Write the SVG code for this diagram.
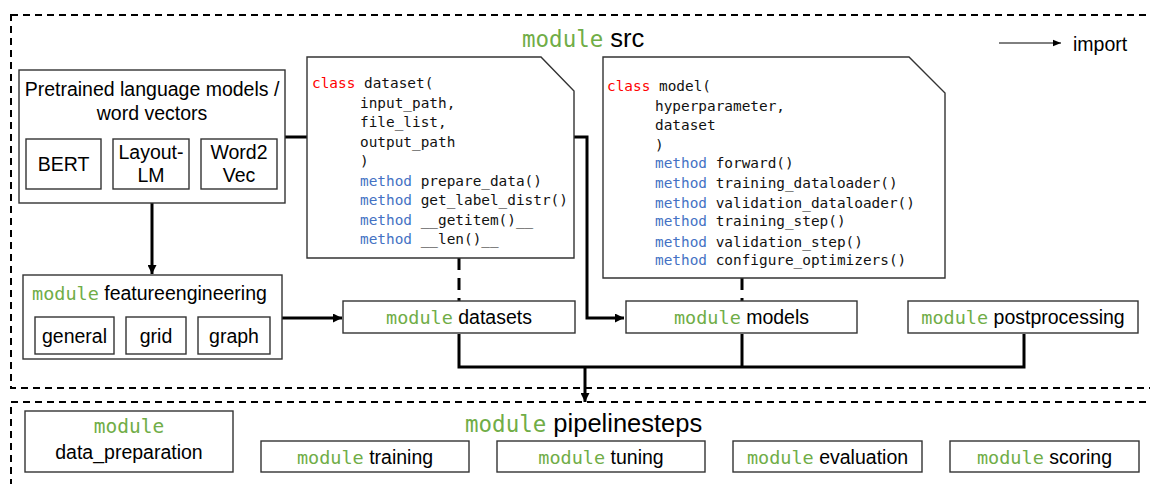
<svg xmlns="http://www.w3.org/2000/svg" width="1150" height="484" viewBox="0 0 1150 484">
  <defs>
    <marker id="arrow" viewBox="0 0 10 10" refX="10" refY="5" markerWidth="3" markerHeight="3" orient="auto" markerUnits="strokeWidth">
      <path d="M0,0 L10,5 L0,10 z" fill="#000"/>
    </marker>
    <marker id="arrow-thin" viewBox="0 0 10 10" refX="10" refY="5" markerWidth="8" markerHeight="8" orient="auto" markerUnits="strokeWidth">
      <path d="M0,1 L10,5 L0,9 z" fill="#000"/>
    </marker>
    <style>
      .box { fill: #fff; stroke: #333; stroke-width: 1.4; }
      .frame { fill: none; stroke: #000; stroke-width: 2; stroke-dasharray: 7 5; }
      .wire { fill: none; stroke: #000; stroke-width: 3; }
      .dash { fill: none; stroke: #000; stroke-width: 3; stroke-dasharray: 12 8; }
      .txt { font-family: "Liberation Sans", Arial, sans-serif; font-size: 19.5px; fill: #000; }
      .big { font-family: "Liberation Sans", Arial, sans-serif; font-size: 25.5px; fill: #000; }
      .mono { font-family: "DejaVu Sans Mono", "Liberation Mono", monospace; }
      .kw { fill: #70AD47; }
      .code { font-family: "DejaVu Sans Mono", "Liberation Mono", monospace; font-size: 14.4px; fill: #111; }
      .cls { fill: #FF0000; }
      .meth { fill: #4472C4; }
    </style>
  </defs>

  <!-- package frames -->
  <rect class="frame" x="11" y="15" width="1160" height="373"/>
  <rect class="frame" x="11" y="402" width="1160" height="100"/>

  <!-- frame titles -->
  <text class="big" x="522" y="47"><tspan class="mono kw" font-size="22.5px">module</tspan> src</text>
  <text class="big" x="465" y="432"><tspan class="mono kw" font-size="22.5px">module</tspan> pipelinesteps</text>

  <!-- legend -->
  <g id="legend">
    <line x1="999" y1="43" x2="1061" y2="43" stroke="#000" stroke-width="1" marker-end="url(#arrow-thin)"/>
    <text class="txt" x="1073" y="51" font-size="23.5px">import</text>
  </g>

  <!-- connectors -->
  <g id="connectors">
    <!-- pretrained models -> models (passes behind dataset class) -->
    <polyline class="wire" points="285,137 587,137 587,318 624,318" marker-end="url(#arrow)"/>
    <!-- pretrained models -> featureengineering -->
    <line class="wire" x1="152" y1="203" x2="152" y2="274" marker-end="url(#arrow)"/>
    <!-- featureengineering -> datasets -->
    <line class="wire" x1="282" y1="318" x2="342" y2="318" marker-end="url(#arrow)"/>
    <!-- class definitions -> modules -->
    <line class="dash" x1="459" y1="258" x2="459" y2="301"/>
    <line class="dash" x1="742" y1="278" x2="742" y2="301"/>
    <!-- src modules -> pipelinesteps -->
    <polyline class="wire" points="459,334 459,367 1024,367 1024,334"/>
    <line class="wire" x1="742" y1="334" x2="742" y2="367"/>
    <line class="wire" x1="585" y1="367" x2="585" y2="402" marker-end="url(#arrow)"/>
  </g>

  <!-- pretrained language models -->
  <g id="pretrained">
    <rect class="box" x="19" y="70" width="266" height="133"/>
    <text class="txt" x="152" y="96" text-anchor="middle">Pretrained language models /</text>
    <text class="txt" x="152" y="120" text-anchor="middle">word vectors</text>
    <rect class="box" x="26" y="139" width="75" height="50"/>
    <text class="txt" x="63.5" y="171" text-anchor="middle">BERT</text>
    <rect class="box" x="113" y="139" width="76" height="50"/>
    <text class="txt" x="151" y="159" text-anchor="middle">Layout-</text>
    <text class="txt" x="151" y="182" text-anchor="middle">LM</text>
    <rect class="box" x="201" y="139" width="76" height="50"/>
    <text class="txt" x="239" y="159" text-anchor="middle">Word2</text>
    <text class="txt" x="239" y="182" text-anchor="middle">Vec</text>
  </g>

  <!-- class dataset -->
  <g id="class-dataset">
    <path class="box" d="M307,57 L541,57 L574,91 L574,258 L307,258 Z"/>
    <text class="code" x="312" y="88"><tspan class="cls">class</tspan> dataset(</text>
    <text class="code" x="360" y="107.5">input_path,</text>
    <text class="code" x="360" y="127">file_list,</text>
    <text class="code" x="360" y="146.5">output_path</text>
    <text class="code" x="360" y="166">)</text>
    <text class="code" x="360" y="185.5"><tspan class="meth">method</tspan> prepare_data()</text>
    <text class="code" x="360" y="205"><tspan class="meth">method</tspan> get_label_distr()</text>
    <text class="code" x="360" y="224.5"><tspan class="meth">method</tspan> __getitem()__</text>
    <text class="code" x="360" y="244"><tspan class="meth">method</tspan> __len()__</text>
  </g>

  <!-- class model -->
  <g id="class-model">
    <path class="box" d="M603,57 L909,57 L945,93 L945,278 L603,278 Z"/>
    <text class="code" x="607" y="91"><tspan class="cls">class</tspan> model(</text>
    <text class="code" x="655" y="111">hyperparameter,</text>
    <text class="code" x="655" y="130">dataset</text>
    <text class="code" x="655" y="150">)</text>
    <text class="code" x="655" y="168"><tspan class="meth">method</tspan> forward()</text>
    <text class="code" x="655" y="188"><tspan class="meth">method</tspan> training_dataloader()</text>
    <text class="code" x="655" y="207.5"><tspan class="meth">method</tspan> validation_dataloader()</text>
    <text class="code" x="655" y="226"><tspan class="meth">method</tspan> training_step()</text>
    <text class="code" x="655" y="246.5"><tspan class="meth">method</tspan> validation_step()</text>
    <text class="code" x="655" y="265"><tspan class="meth">method</tspan> configure_optimizers()</text>
  </g>

  <!-- module featureengineering -->
  <g id="featureengineering">
    <rect class="box" x="23" y="275" width="259" height="84"/>
    <text class="txt" x="32" y="300"><tspan class="mono kw" font-size="18.5px">module</tspan> featureengineering</text>
    <rect class="box" x="35" y="317" width="79" height="37"/>
    <text class="txt" x="74.5" y="343" text-anchor="middle">general</text>
    <rect class="box" x="126" y="317" width="60" height="37"/>
    <text class="txt" x="156" y="343" text-anchor="middle">grid</text>
    <rect class="box" x="198" y="317" width="72" height="37"/>
    <text class="txt" x="234" y="343" text-anchor="middle">graph</text>
  </g>

  <!-- module datasets -->
  <g id="datasets">
    <rect class="box" x="343" y="301" width="232" height="32"/>
    <text class="txt" x="459" y="324" text-anchor="middle"><tspan class="mono kw" font-size="18.5px">module</tspan> datasets</text>
  </g>

  <!-- module models -->
  <g id="models">
    <rect class="box" x="626" y="301" width="231" height="32"/>
    <text class="txt" x="741.5" y="324" text-anchor="middle"><tspan class="mono kw" font-size="18.5px">module</tspan> models</text>
  </g>

  <!-- module postprocessing -->
  <g id="postprocessing">
    <rect class="box" x="908" y="301" width="230" height="32"/>
    <text class="txt" x="1023" y="324" text-anchor="middle"><tspan class="mono kw" font-size="18.5px">module</tspan> postprocessing</text>
  </g>

  <!-- pipeline steps -->
  <g id="data_preparation">
    <rect class="box" x="25" y="411" width="208" height="61"/>
    <text class="txt mono kw" x="129" y="433" text-anchor="middle" font-size="18.5px">module</text>
    <text class="txt" x="129" y="459" text-anchor="middle">data_preparation</text>
  </g>
  <g id="training">
    <rect class="box" x="261" y="441" width="208" height="31"/>
    <text class="txt" x="365" y="464" text-anchor="middle"><tspan class="mono kw" font-size="18.5px">module</tspan> training</text>
  </g>
  <g id="tuning">
    <rect class="box" x="497" y="441" width="208" height="31"/>
    <text class="txt" x="601" y="464" text-anchor="middle"><tspan class="mono kw" font-size="18.5px">module</tspan> tuning</text>
  </g>
  <g id="evaluation">
    <rect class="box" x="733" y="441" width="189" height="31"/>
    <text class="txt" x="827.5" y="464" text-anchor="middle"><tspan class="mono kw" font-size="18.5px">module</tspan> evaluation</text>
  </g>
  <g id="scoring">
    <rect class="box" x="950" y="441" width="189" height="31"/>
    <text class="txt" x="1044.5" y="464" text-anchor="middle"><tspan class="mono kw" font-size="18.5px">module</tspan> scoring</text>
  </g>
</svg>
